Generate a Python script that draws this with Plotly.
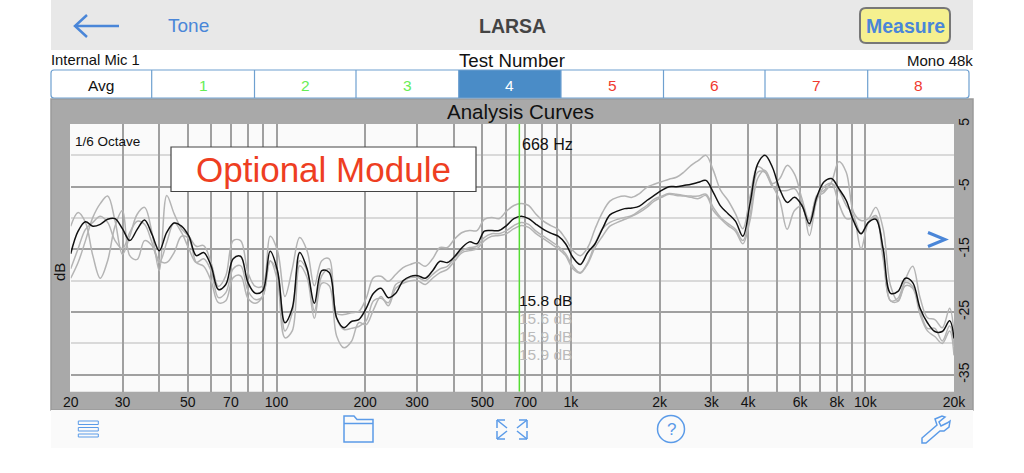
import plotly.graph_objects as go

W = 1024
H = 473
FONT = "Liberation Sans"
BLUE = "#4a86d8"
ICON = "#5b9be8"

freq_hz = [
    20, 21.19, 22.45, 23.78, 25.2, 26.7, 28.28, 29.97, 31.75, 33.64, 35.64, 37.76,
    40, 42.38, 44.9, 47.57, 50.4, 53.39, 56.57, 59.93, 63.5, 67.27, 71.27, 75.51,
    80, 84.76, 89.8, 95.14, 100.8, 106.8, 113.1, 119.9, 127, 134.5, 142.5, 151,
    160, 169.5, 179.6, 190.3, 201.6, 213.6, 226.3, 239.7, 254, 269.1, 285.1, 302,
    320, 339, 359.2, 380.5, 403.2, 427.2, 452.5, 479.5, 508, 538.2, 570.2, 604.1,
    640, 678.1, 718.4, 761.1, 806.3, 854.3, 905.1, 958.9, 1016, 1076, 1140, 1208,
    1280, 1356, 1437, 1522, 1613, 1709, 1810, 1918, 2032, 2153, 2281, 2416,
    2560, 2712, 2874, 3044, 3225, 3417, 3620, 3836, 4064, 4305, 4561, 4833,
    5120, 5424, 5747, 6089, 6451, 6834, 7241, 7671, 8127, 8611, 9123, 9665,
    10240, 10850, 11490, 12180, 12900, 13670, 14480, 15340, 16250, 17220, 18250, 19330,
    20000,
]

test_4 = [
    -15.7, -12.1, -10.6, -11.3, -11.0, -10.2, -10.1, -11.7, -13.6, -11.8, -10.3, -12.6,
    -15.2, -12.3, -10.8, -11.3, -12.9, -16.0, -15.5, -17.6, -21.4, -20.6, -16.5, -16.1,
    -20.3, -22.0, -21.6, -15.3, -18.4, -26.7, -24.4, -15.5, -18.1, -23.6, -18.4, -18.7,
    -25.9, -27.5, -26.5, -26.2, -24.4, -22.0, -21.2, -22.7, -22.0, -20.0, -19.3, -19.2,
    -19.6, -18.4, -16.9, -17.1, -16.1, -14.7, -13.8, -14.1, -12.1, -12.0, -12.0, -11.2,
    -10.1, -9.7, -10.1, -11.0, -11.8, -12.4, -12.9, -14.1, -16.3, -17.4, -15.5, -14.1,
    -11.7, -9.5, -8.9, -8.5, -8.4, -8.1, -7.2, -6.4, -5.6, -5.0, -5.0, -4.8,
    -4.6, -4.3, -4.0, -5.9, -8.1, -9.3, -10.5, -12.9, -7.5, -1.4, 0.0, -1.9,
    -5.4, -7.5, -6.7, -8.0, -10.9, -6.7, -4.2, -3.7, -5.3, -7.2, -10.5, -12.5,
    -10.7, -10.2, -14.9, -22.0, -21.7, -19.6, -20.3, -24.4, -26.7, -28.1, -28.1, -26.4,
    -29.2,
]

test_a = [
    -19.6, -17.1, -13.6, -9.9, -7.7, -6.5, -10.4, -15.8, -12.9, -9.4, -8.3, -12.3,
    -18.4, -6.4, -9.3, -11.7, -12.9, -14.5, -14.4, -17.1, -20.9, -19.2, -13.6, -13.6,
    -18.7, -20.9, -20.8, -12.9, -15.2, -22.5, -18.1, -13.1, -15.2, -20.8, -16.8, -16.5,
    -25.2, -25.4, -25.1, -24.9, -22.8, -19.5, -19.3, -20.1, -19.0, -17.9, -17.4, -17.1,
    -17.7, -16.5, -14.7, -14.7, -13.3, -12.3, -12.0, -12.0, -10.2, -9.9, -10.1, -8.9,
    -8.0, -7.7, -8.0, -9.4, -10.5, -11.2, -11.8, -13.3, -15.2, -16.0, -14.7, -11.7,
    -9.1, -7.3, -6.7, -6.5, -6.7, -6.1, -5.1, -4.6, -4.2, -3.8, -3.5, -2.7,
    -1.6, -0.8, 0.0, -2.4, -5.6, -7.2, -9.3, -11.7, -6.4, -1.8, -2.6, -4.5,
    -3.7, -1.6, -3.0, -6.9, -10.4, -6.7, -5.9, -4.3, -1.0, -2.7, -9.1, -10.4,
    -10.1, -8.3, -11.7, -20.8, -23.2, -19.8, -17.7, -22.7, -25.9, -26.2, -27.5, -24.4,
    -28.3,
]

test_b = [
    -18.1, -14.9, -11.8, -10.7, -9.7, -10.7, -13.6, -14.9, -12.3, -10.5, -11.0, -13.9,
    -16.8, -17.1, -15.5, -12.9, -13.3, -17.1, -17.7, -20.0, -23.5, -23.2, -19.5, -19.2,
    -22.8, -23.6, -22.5, -16.8, -20.0, -29.1, -28.0, -17.6, -19.5, -26.0, -20.4, -20.8,
    -28.8, -30.7, -29.7, -26.7, -27.0, -24.6, -22.5, -24.0, -21.2, -20.4, -20.0, -20.0,
    -20.6, -19.6, -18.7, -18.2, -16.8, -15.5, -15.2, -14.9, -13.6, -12.9, -12.8, -12.5,
    -11.7, -11.2, -11.5, -12.5, -13.3, -14.1, -14.9, -16.0, -18.1, -18.8, -17.3, -14.7,
    -12.9, -11.3, -10.7, -10.2, -9.7, -9.1, -8.3, -7.3, -6.7, -6.2, -6.4, -6.5,
    -6.7, -6.9, -6.4, -8.8, -10.1, -11.2, -12.1, -14.1, -10.2, -3.7, -2.4, -4.8,
    -7.2, -11.8, -8.8, -8.1, -12.8, -7.2, -5.0, -4.5, -7.7, -10.1, -10.1, -12.5,
    -10.7, -9.9, -16.5, -23.2, -23.3, -20.8, -21.2, -25.4, -28.0, -28.9, -30.0, -28.0,
    -31.9,
]

test_c = [
    -11.3, -9.1, -10.7, -16.0, -19.6, -16.8, -11.3, -8.8, -16.0, -16.6, -13.6, -14.4,
    -17.1, -13.9, -10.7, -12.3, -14.9, -17.1, -16.5, -18.4, -22.7, -21.9, -18.1, -17.6,
    -21.6, -23.0, -22.5, -16.9, -18.7, -28.0, -25.1, -16.8, -18.4, -24.8, -19.2, -18.1,
    -26.0, -27.8, -27.6, -27.3, -26.4, -23.2, -22.8, -23.5, -20.6, -20.0, -19.5, -19.5,
    -20.0, -19.0, -18.1, -17.7, -16.3, -15.2, -14.7, -14.5, -13.1, -12.5, -12.5, -12.0,
    -11.2, -10.7, -11.0, -12.1, -12.9, -13.7, -14.5, -15.7, -17.7, -18.7, -17.1, -14.1,
    -11.7, -10.7, -10.2, -9.9, -9.6, -8.8, -8.0, -7.0, -6.5, -6.1, -6.2, -6.4,
    -6.5, -6.5, -6.2, -8.3, -9.9, -10.9, -11.8, -13.6, -9.3, -2.7, -2.7, -5.0,
    -5.6, -5.6, -5.3, -7.5, -11.3, -6.4, -5.6, -4.5, -5.6, -8.0, -9.6, -14.9,
    -10.7, -9.6, -15.2, -23.2, -22.8, -20.3, -20.9, -24.8, -27.6, -27.6, -29.6, -27.2,
    -30.4,
]

x_grid = [20, 30, 40, 50, 60, 70, 80, 90, 100, 200, 300, 400, 500, 600, 700, 800, 900,
          1000, 2000, 3000, 4000, 5000, 6000, 7000, 8000, 9000, 10000, 20000]
x_labels = ["20", "30", "", "50", "", "70", "", "", "100", "200", "300", "", "500", "", "700", "", "",
            "1k", "2k", "3k", "4k", "", "6k", "", "8k", "", "10k", "20k"]
db_major = [5, -5, -15, -25, -35]
db_minor = [0, -10, -20, -30]
cursor_hz = 668
cursor_db = ["15.8 dB", "15.6 dB", "15.9 dB", "15.9 dB"]
test_tabs = ["Avg", "1", "2", "3", "4", "5", "6", "7", "8"]
tab_colors = ["#111111", "#66ee55", "#66ee55", "#66ee55", "#ffffff", "#f03a30", "#f03a30", "#f03a30", "#f03a30"]
tab_edges = [51, 151.7, 254.5, 356, 458.7, 561, 663.5, 765, 867.7, 969]


def px(x):
    return x / W


def py(y):
    return 1 - y / H


def rect(x0, y0, x1, y1, fill, line=None, width=0, layer="below"):
    return dict(type="rect", xref="paper", yref="paper", x0=px(x0), x1=px(x1), y0=py(y0), y1=py(y1),
                fillcolor=fill, line=dict(color=line or fill, width=width), layer=layer)


def round_rect(x0, y0, x1, y1, r, fill, line, width):
    pts = [("M", x0 + r, y0), ("L", x1 - r, y0), ("Q", x1, y0, x1, y0 + r), ("L", x1, y1 - r),
           ("Q", x1, y1, x1 - r, y1), ("L", x0 + r, y1), ("Q", x0, y1, x0, y1 - r), ("L", x0, y0 + r),
           ("Q", x0, y0, x0 + r, y0)]
    d = ""
    for p in pts:
        coords = [f"{px(p[i]):.5f},{py(p[i + 1]):.5f}" for i in range(1, len(p), 2)]
        d += p[0] + " " + " ".join(coords) + " "
    return dict(type="path", xref="paper", yref="paper", path=d + "Z", fillcolor=fill,
                line=dict(color=line, width=width), layer="below")


def path(points, color, width=2, closed=False, fill=None):
    d = "M " + " L ".join(f"{px(x):.5f},{py(y):.5f}" for x, y in points)
    if closed:
        d += " Z"
    return dict(type="path", xref="paper", yref="paper", path=d, line=dict(color=color, width=width),
                fillcolor=fill or "rgba(0,0,0,0)", layer="above")


def label(x, y, text, size=14, color="#111111", anchor="center", bold=False, angle=0):
    return dict(xref="paper", yref="paper", x=px(x), y=py(y), text=f"<b>{text}</b>" if bold else text,
                showarrow=False, xanchor=anchor, yanchor="middle", textangle=angle, borderpad=0, borderwidth=0,
                font=dict(family=FONT, size=size, color=color))


fig = go.Figure()

for name, vals in [("a", test_a), ("b", test_b), ("c", test_c)]:
    fig.add_trace(go.Scatter(x=freq_hz, y=vals, mode="lines", name=name,
                             line=dict(color="#b4b4b4", width=1.5, shape="spline", smoothing=1)))
fig.add_trace(go.Scatter(x=freq_hz, y=test_4, mode="lines", name="Test 4",
                         line=dict(color="#111111", width=1.5, shape="spline", smoothing=1)))
fig.add_trace(go.Scatter(x=[cursor_hz, cursor_hz], y=[5, -37.7], mode="lines", name="cursor",
                         line=dict(color="#55dd33", width=1.5)))

shapes = [
    rect(51, 0, 973, 50, "#e8e8e8"),
    rect(51, 99, 973, 410, "#a9a9a9", "#9a9a9a", 1.5),
    rect(70, 124, 954, 391.7, "#fafafa"),
    rect(51, 410, 973, 448, "#fafafa"),
    rect(tab_edges[4], 70, tab_edges[5], 98, "#4a8cc7"),
    round_rect(51, 70, 969, 98, 3, "rgba(0,0,0,0)", "#6ea0d0", 1.2),
    round_rect(860, 8, 950, 43, 6, "#f5f08f", "#777777", 2),
    rect(171, 147, 476, 191.5, "#ffffff", "#444444", 1.2, layer="above"),
    path([(75, 26), (119, 26)], BLUE, 2.5),
    path([(87, 15), (75, 26), (87, 37)], BLUE, 2.5),
    path([(928, 232.5), (945, 239.5), (928, 246.5)], BLUE, 3),
    # toolbar icons
    rect(78.3, 421, 98.3, 424.5, "rgba(0,0,0,0)", ICON, 1, layer="above"),
    rect(78.3, 427.5, 98.3, 431, "rgba(0,0,0,0)", ICON, 1, layer="above"),
    rect(78.3, 434, 98.3, 437, "rgba(0,0,0,0)", ICON, 1, layer="above"),
    path([(344, 442), (344, 416), (354, 416), (357, 419.5), (373, 419.5), (373, 442)], ICON, 1.5, closed=True),
    path([(344, 423.5), (373, 423.5)], ICON, 1.5),
    path([(497, 420), (505, 420)], ICON, 1.5), path([(497, 420), (497, 428)], ICON, 1.5),
    path([(497, 420), (507, 428)], ICON, 1.5),
    path([(527, 420), (519, 420)], ICON, 1.5), path([(527, 420), (527, 428)], ICON, 1.5),
    path([(527, 420), (517, 428)], ICON, 1.5),
    path([(497, 439), (505, 439)], ICON, 1.5), path([(497, 439), (497, 431)], ICON, 1.5),
    path([(497, 439), (507, 431)], ICON, 1.5),
    path([(527, 439), (519, 439)], ICON, 1.5), path([(527, 439), (527, 431)], ICON, 1.5),
    path([(527, 439), (517, 431)], ICON, 1.5),
    dict(type="circle", xref="paper", yref="paper", x0=px(657.5), x1=px(684.5), y0=py(415.5), y1=py(442.5),
         line=dict(color=ICON, width=1.5), layer="above"),
    path([(922, 438), (937, 425), (935, 419), (942, 416), (945, 417), (939, 422), (941, 426),
          (947, 423), (950, 421), (949, 427), (944, 431), (940, 431), (926, 443), (922, 443)],
         ICON, 1.5, closed=True),
]
for edge in tab_edges[1:-1]:
    shapes.append(path([(edge, 70), (edge, 98)], "#6ea0d0", 1.2))

annotations = [
    label(188, 26, "Tone", 19, BLUE),
    label(512, 26, "LARSA", 19.5, "#444444", bold=True),
    label(905, 26, "Measure", 19.5, BLUE, bold=True),
    label(51, 60, "Internal Mic 1", 14.8, anchor="left"),
    label(512, 60, "Test Number", 18.7),
    label(973, 60, "Mono 48k", 15, anchor="right"),
    label(520, 111, "Analysis Curves", 20.5),
    label(75, 141, "1/6 Octave", 13.5, anchor="left"),
    label(323, 169, "Optional Module", 35, "#ee3e22"),
    label(522, 145, "668 Hz", 16, anchor="left"),
    label(59, 272, "dB", 15, angle=-90),
    label(671, 429, "?", 17, ICON),
]
for i, text in enumerate(test_tabs):
    annotations.append(label((tab_edges[i] + tab_edges[i + 1]) / 2, 85, text, 15.5, tab_colors[i]))
for i, text in enumerate(cursor_db):
    annotations.append(label(519, 300 + 18 * i, text, 15.5, "#111111" if i == 0 else "#bbbbbb", anchor="left"))

fig.update_layout(
    width=W, height=H, showlegend=False,
    margin=dict(l=0, r=0, t=0, b=0),
    paper_bgcolor="#ffffff", plot_bgcolor="rgba(0,0,0,0)",
    font=dict(family=FONT, color="#111111"),
    shapes=shapes, annotations=annotations,
)
fig.update_xaxes(
    type="log", range=[1.30103, 4.30103], domain=[70.7 / W, 954 / W], automargin=False,
    tickmode="array", tickvals=x_grid, ticktext=x_labels, tickangle=0,
    showgrid=True, gridcolor="#a0a0a0", gridwidth=2, zeroline=False, showline=False,
    ticks="", tickfont=dict(size=14),
)
fig.update_yaxes(
    range=[-37.7, 5], domain=[1 - 391.7 / H, 1 - 124 / H], side="right", automargin=False,
    tickmode="array", tickvals=db_major, ticktext=[str(v) for v in db_major], tickangle=-90,
    showgrid=True, gridcolor="#a0a0a0", gridwidth=2, zeroline=False, showline=False,
    ticks="", tickfont=dict(size=14),
    minor=dict(tickvals=db_minor, showgrid=True, gridcolor="#d9d9d9", gridwidth=2, ticks=""),
)

# the page has a default body margin, pin the plot to the window corner
fig.write_html(
    "out.html", config=dict(displayModeBar=False),
    post_script=(
        "var d=document.getElementById('{plot_id}');"
        "d.style.position='fixed';d.style.left='0';d.style.top='0';"
        "document.documentElement.style.overflow='hidden';"
        "document.body.style.margin='0';"
    ),
)
